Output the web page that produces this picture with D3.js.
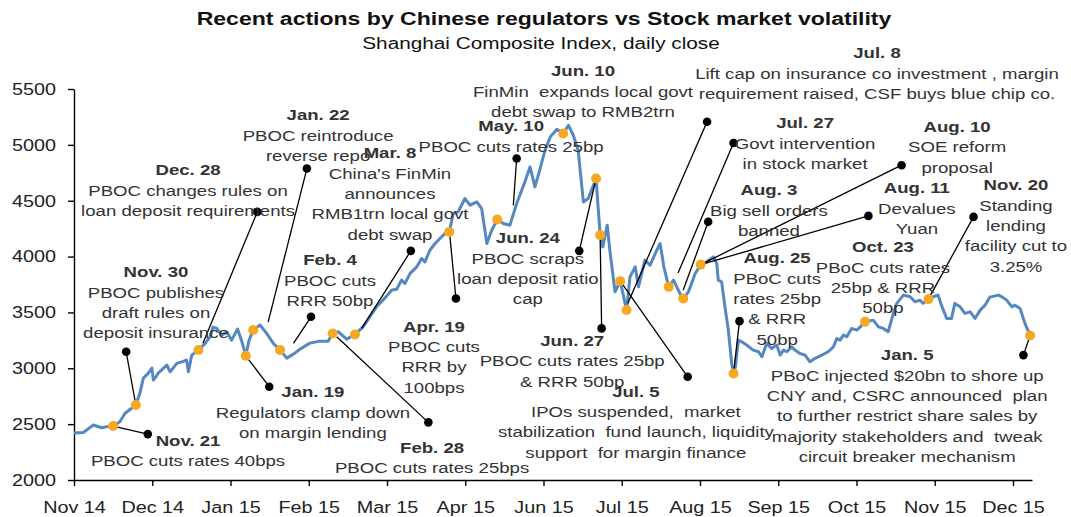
<!DOCTYPE html>
<html>
<head>
<meta charset="utf-8">
<script src="https://cdn.jsdelivr.net/npm/d3@7"></script>
<style>
body { margin: 0; background: #fff; }
text { font-family: "Liberation Sans", Arial, sans-serif; fill: #333; }
</style>
</head>
<body>
<svg id="chart" width="1071" height="517"></svg>
<script>
// trading-day index (21 per axis tick) and daily close
var tradingDay = [0,2.5,5.2,7.4,8.8,10.5,12.3,13.7,16.6,17.7,18.6,19.9,20.9,21.3,22.0,22.6,24.9,25.8,27.6,28.9,
  30.2,30.7,31.6,33.4,35.2,36.5,37.3,38.3,39.6,41.0,42.3,43.9,45.1,46.1,47.0,48.1,49.9,51.7,53.5,55.3,
  57.1,58.9,60.7,63.3,66.0,68.2,69.4,70.9,73.2,75.4,77.6,79.4,81.2,83.9,85.3,86.6,87.9,88.8,90.2,92.0,
  93.3,94.2,95.5,96.9,98.2,99.6,100.7,101.8,103.1,104.9,106.3,108.1,109.4,110.8,112.1,113.6,115.2,117.0,118.8,121.0,
  122.4,123.7,125.1,126.4,127.8,129.6,131.3,132.7,134.0,135.3,136.7,138.0,140.1,141.2,141.9,143.1,143.8,145.2,146.6,148.3,
  149.2,150.6,151.5,153.2,154.6,156.4,157.3,158.3,159.6,160.9,162.6,163.5,164.9,166.7,168.2,169.8,171.6,172.5,172.9,173.8,
  174.7,175.6,176.5,177.0,177.5,178.3,179.2,180.5,182.3,183.7,184.6,185.9,187.2,188.6,189.5,190.4,191.3,192.6,193.5,194.8,
  196.2,197.5,198.9,200.7,202.4,203.8,204.7,205.6,206.5,207.4,208.7,210.1,211.0,212.3,214.5,215.9,217.2,218.5,219.9,220.8,
  222.6,224.4,225.7,227.0,227.9,229.3,230.6,231.9,232.8,234.2,235.5,236.4,237.8,239.1,240.5,241.8,243.2,244.5,245.8,248.1,
  249.0,250.3,251.7,252.5,253.9,255.2,256.6];
var closes = [2420,2425,2492,2468,2477,2483,2521,2597,2671,2778,2912,2954,3002,2895,2924,2957,3029,2969,3044,3058,
  3073,2969,3118,3163,3223,3282,3369,3357,3297,3324,3252,3351,3234,3112,3252,3342,3387,3312,3223,3163,
  3091,3127,3172,3225,3243,3243,3312,3327,3261,3303,3371,3461,3550,3646,3700,3708,3789,3760,3849,3908,
  3983,3953,4057,4117,4162,4207,4221,4386,4400,4520,4460,4489,4430,4117,4236,4332,4296,4281,4475,4668,
  4803,4624,4788,4952,5071,5140,5101,5175,5086,4952,4489,4520,4699,4192,4087,4281,4057,3684,3780,3521,
  3818,3908,3729,3968,3923,4057,4117,3908,3729,3789,3670,3625,3684,3849,3928,3953,3997,3938,3789,3774,
  3550,3342,3044,2954,3013,3252,3237,3208,3163,3148,3103,3223,3178,3208,3118,3163,3148,3192,3163,3133,
  3118,3058,3089,3118,3148,3192,3267,3252,3297,3282,3357,3342,3371,3416,3431,3371,3357,3327,3491,3581,
  3655,3640,3595,3610,3581,3619,3640,3655,3565,3446,3446,3581,3550,3491,3505,3446,3521,3565,3637,3655,
  3640,3610,3550,3565,3536,3402,3293];

var monthLabels = ["Nov 14","Dec 14","Jan 15","Feb 15","Mar 15","Apr 15","Jun 15","Jul 15","Aug 15","Sep 15","Oct 15","Nov 15","Dec 15"];
var yTicks = [2000,2500,3000,3500,4000,4500,5000,5500];

// trading days flagged with an orange marker
var eventDays = [10.5,16.6,33.4,46.1,48.1,55.3,69.4,75.4,100.7,113.6,131.3,140.1,141.2,146.6,148.3,159.6,163.5,168.2,177.0,212.3,229.3,256.6];

var eventDates = ["Nov. 21","Nov. 30","Dec. 28","Jan. 22","Jan. 19","Feb. 4","Feb. 28","Mar. 8","Apr. 19","May. 10","Jun. 10","Jun. 24",
  "Jun. 27","Jul. 5","Jul. 8","Jul. 27","Aug. 3","Aug. 10","Aug. 11","Aug. 25","Oct. 23","Nov. 20","Jan. 5"];
var eventText = [
  ["PBOC cuts rates 40bps"],
  ["PBOC publishes","draft rules on","deposit insurance"],
  ["PBOC changes rules on","loan deposit requirements"],
  ["PBOC reintroduce","reverse repo"],
  ["Regulators clamp down","on margin lending"],
  ["PBOC cuts","RRR 50bp"],
  ["PBOC cuts rates 25bps"],
  ["China's FinMin","announces","RMB1trn local govt","debt swap"],
  ["PBOC cuts","RRR by","100bps"],
  ["PBOC cuts rates 25bp"],
  ["FinMin  expands local govt","debt swap to RMB2trn"],
  ["PBOC scraps","loan deposit ratio","cap"],
  ["PBOC cuts rates 25bp","& RRR 50bp"],
  ["IPOs suspended,  market","stabilization  fund launch, liquidity","support  for margin finance"],
  ["Lift cap on insurance co investment , margin","requirement raised, CSF buys blue chip co."],
  ["Govt intervention","in stock market"],
  ["Big sell orders","banned"],
  ["SOE reform","proposal"],
  ["Devalues","Yuan"],
  ["PBoC cuts","rates 25bp","& RRR","50bp"],
  ["PBoC cuts rates","25bp & RRR","50bp"],
  ["Standing","lending","facility cut to","3.25%"],
  ["PBoC injected $20bn to shore up","CNY and, CSRC announced  plan","to further restrict share sales by","majority stakeholders and  tweak","circuit breaker mechanism"]
];

// callout layout, in data units [day, index level]
var labelAt = [[30.6,2304],[22.0,3816],[30.6,4728],[65.5,5220],[64.1,2742],[68.7,3923],[96.1,2242],[84.8,4880],
  [96.6,3328],[117.3,5122],[136.6,5614],[121.8,4120],[133.7,3199],[150.8,2747],[215.5,5775],[196.2,5149],
  [186.5,4549],[237.0,5117],[226.2,4567],[188.7,3941],[217.1,4039],[252.8,4594],[223.6,3073]];
var leaderFrom = [[10.5,2483],[16.6,2671],[34.6,3225],[52.1,3413],[46.1,3112],[58.9,3223],[70.5,3282],[77.2,3357],
  [100.9,4176],[117.9,4460],null,[140.1,4699],[141.2,4192],[146.6,3780],[148.6,3580],[162.1,3852],
  [163.5,3700],[168.2,3928],[168.2,3928],[177.0,2954],null,[229.3,3619],[256.6,3293]];
var leaderTo = [[19.8,2411],[14.0,3148],[49.2,4400],[62.5,4788],[52.4,2835],[63.6,3461],[95.1,2516],[90.4,4051],
  [102.5,3625],[118.8,4878],null,[135.6,4051],[141.6,3357],[164.7,2924],[169.9,5207],[177.0,5017],
  [170.2,4311],[222.1,4818],[213.2,4364],[178.6,3422],null,[241.4,4355],[254.8,3118]];

var SX = 1.2;          // horizontal stretch of the reference text
var lineGap = 20.4;

var svg = d3.select("#chart");

var x = d3.scaleLinear().domain([0, 257.1]).range([74, 1032]);
var y = d3.scaleLinear().domain([2000, 5500]).range([480, 89]);

function stretchText(g, px, py, str, size, weight, anchor) {
  return g.append("text")
    .attr("transform", "translate(" + px + "," + py + ") scale(" + SX + ",1)")
    .attr("text-anchor", anchor || "middle")
    .style("font-size", size + "px")
    .style("font-weight", weight || "normal")
    .text(str);
}

// title
stretchText(svg, 544, 25, "Recent actions by Chinese regulators vs Stock market volatility", 19.2, "bold").style("fill", "#111");
stretchText(svg, 541, 49, "Shanghai Composite Index, daily close", 17.3, "normal").style("fill", "#111");

// axes
var xAxis = svg.append("g")
  .attr("transform", "translate(0,480)")
  .call(d3.axisBottom(x)
    .tickValues(d3.range(0, 253, 21))
    .tickFormat(function(d, i) { return monthLabels[i]; })
    .tickSize(6).tickSizeOuter(0).tickPadding(15));

var yAxis = svg.append("g")
  .attr("transform", "translate(74,0)")
  .call(d3.axisLeft(y).tickValues(yTicks).tickFormat(d3.format("d"))
    .tickSize(6).tickSizeOuter(0).tickPadding(9));

[xAxis, yAxis].forEach(function(a) {
  a.select(".domain").attr("stroke", "#000").attr("stroke-width", 1.4);
  a.selectAll(".tick line").attr("stroke", "#000").attr("stroke-width", 1.4);
  a.selectAll(".tick text")
    .attr("transform", "scale(" + SX + ",1)")
    .style("font-size", "16.5px")
    .style("font-family", "'Liberation Sans', Arial, sans-serif")
    .style("fill", "#222");
});

// index line
var series = tradingDay.map(function(t, i) { return {t: t, v: closes[i]}; });
var valueline = d3.line()
  .x(function(d) { return x(d.t); })
  .y(function(d) { return y(d.v); });

svg.append("path")
  .datum(series)
  .attr("d", valueline)
  .attr("fill", "none")
  .attr("stroke", "#5588C0")
  .attr("stroke-width", 3)
  .attr("stroke-linejoin", "round");

// leader lines
var calls = eventDates.map(function(d, i) {
  return {date: d, lines: eventText[i], at: labelAt[i], from: leaderFrom[i], to: leaderTo[i]};
});
var withLeader = calls.filter(function(c) { return c.from; });

svg.selectAll("line.leader")
  .data(withLeader)
  .enter().append("line")
  .attr("class", "leader")
  .attr("x1", function(c) { return x(c.from[0]); })
  .attr("y1", function(c) { return y(c.from[1]); })
  .attr("x2", function(c) { return x(c.to[0]); })
  .attr("y2", function(c) { return y(c.to[1]); })
  .attr("stroke", "#000")
  .attr("stroke-width", 1.3);

// orange event markers sit on the line
svg.selectAll("circle.event")
  .data(eventDays)
  .enter().append("circle")
  .attr("class", "event")
  .attr("cx", function(t) { return x(t); })
  .attr("cy", function(t) { return y(closes[tradingDay.indexOf(t)]); })
  .attr("r", 5)
  .attr("fill", "#F7A823");

svg.selectAll("circle.end")
  .data(withLeader)
  .enter().append("circle")
  .attr("class", "end")
  .attr("cx", function(c) { return x(c.to[0]); })
  .attr("cy", function(c) { return y(c.to[1]); })
  .attr("r", 4.3)
  .attr("fill", "#000");

// callout text
var labels = svg.append("g");
calls.forEach(function(c) {
  var px = x(c.at[0]), py = y(c.at[1]);
  stretchText(labels, px, py, c.date, 15.5, "bold");
  c.lines.forEach(function(l, k) {
    stretchText(labels, px, py + (k + 1) * lineGap, l, 15.5, "normal").style("white-space", "pre");
  });
});
</script>
</body>
</html>
